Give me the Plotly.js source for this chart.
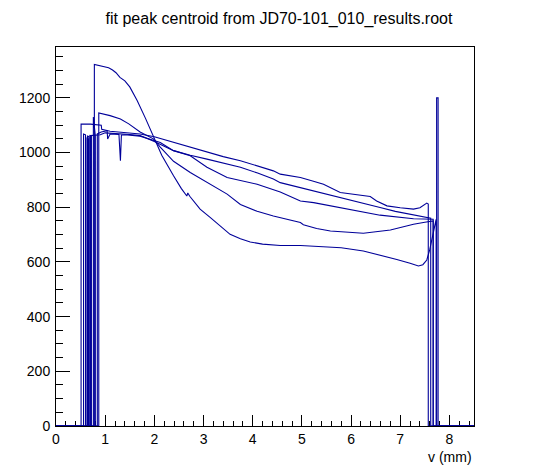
<!DOCTYPE html>
<html>
<head>
<meta charset="utf-8">
<script src="https://cdn.plot.ly/plotly-3.0.1.min.js"></script>
<style>
html,body{margin:0;padding:0;background:#fff;}
#chart{width:558px;height:474px;}
</style>
</head>
<body>
<div id="chart"></div>
<script>
// Chart text
var chartTitle = "fit peak centroid from JD70-101_010_results.root";
var xAxisTitle = "v (mm)";

// Series A (highest peak, steepest fall)
var xA = [0, 0.78, 0.78, 0.84, 0.95, 1.07, 1.15, 1.22, 1.30, 1.40, 1.50, 1.65, 1.82, 1.98, 2.15, 2.39, 2.55, 2.66, 2.68, 2.72, 2.93, 3.14, 3.35, 3.54, 3.75, 3.95, 4.2, 4.56, 4.97, 5.37, 5.8, 6.25, 6.6, 6.93, 7.2, 7.37, 7.46, 7.54, 7.60, 7.66, 7.73, 7.73, 8.5];
var yA = [0, 0, 1322, 1320, 1316, 1310, 1302, 1292, 1275, 1262, 1240, 1190, 1125, 1062, 990, 915, 868, 841, 852, 840, 793, 762, 730, 701, 685, 673, 665, 660, 660, 656, 652, 640, 625, 609, 595, 585, 590, 607, 645, 700, 756, 0, 0];

// Series B (second peak)
var xB = [0, 0.87, 0.87, 0.95, 1.1, 1.31, 1.48, 1.71, 1.98, 2.12, 2.39, 2.73, 3.07, 3.48, 3.75, 4.09, 4.42, 4.97, 5.03, 5.3, 5.58, 6.25, 6.8, 7.27, 7.5, 7.67, 7.67, 8.5];
var yB = [0, 0, 1145, 1142, 1135, 1123, 1105, 1075, 1050, 1020, 968, 927, 891, 848, 810, 785, 768, 744, 736, 722, 713, 705, 717, 738, 745, 750, 0, 0];

// Series C (flattest, top at right)
var xC = [0, 0.51, 0.51, 0.7, 0.92, 0.93, 1.1, 1.3, 1.5, 1.71, 2.0, 2.39, 2.73, 3.07, 3.4, 3.75, 4.1, 4.42, 4.56, 4.97, 5.2, 5.44, 5.78, 6.1, 6.39, 6.52, 6.73, 7.0, 7.27, 7.4, 7.54, 7.57, 7.57, 8.5];
var yC = [0, 0, 1104, 1104, 1100, 1085, 1078, 1074, 1070, 1068, 1058, 1037, 1020, 1001, 985, 970, 950, 933, 921, 909, 897, 884, 854, 846, 839, 823, 805, 798, 793, 798, 815, 812, 0, 0];

// Series D
var xD = [0, 0.56, 0.56, 0.6, 0.6, 0.64, 0.64, 0.67, 0.67, 0.7, 0.7, 0.9, 1.0, 1.3, 1.5, 1.71, 2.0, 2.39, 2.73, 3.07, 3.4, 3.75, 4.1, 4.42, 4.56, 4.97, 5.24, 5.6, 5.91, 6.25, 6.59, 6.9, 7.27, 7.45, 7.57, 7.62, 7.62, 8.5];
var yD = [0, 0, 1068, 1065, 0, 0, 1060, 1058, 0, 0, 1062, 1065, 1072, 1070, 1066, 1062, 1040, 1007, 990, 976, 961, 946, 925, 903, 890, 872, 860, 845, 829, 814, 799, 785, 771, 765, 761, 760, 0, 0];

// Series E (with dip near 1.3 and end spike)
var xE = [0, 0.63, 0.63, 0.66, 0.66, 0.69, 0.69, 0.72, 0.72, 0.76, 0.76, 0.8, 0.8, 0.84, 0.84, 0.92, 1.04, 1.05, 1.1, 1.28, 1.31, 1.33, 1.4, 1.71, 2.12, 2.39, 2.73, 3.07, 3.48, 4.09, 4.56, 4.97, 5.24, 5.91, 6.59, 7.27, 7.6, 7.67, 7.67, 7.74, 7.74, 7.77, 7.77, 8.5];
var yE = [0, 0, 1055, 1050, 0, 0, 1062, 1060, 0, 0, 1130, 1060, 0, 0, 1068, 1075, 1080, 1050, 1068, 1066, 970, 1064, 1065, 1060, 1037, 1007, 988, 946, 909, 884, 856, 823, 817, 793, 771, 758, 756, 756, 0, 0, 1200, 1200, 0, 0];

var seriesX = [xA, xB, xC, xD, xE];
var seriesY = [yA, yB, yC, yD, yE];

var lineColor = "#000099";
var traces = seriesX.map(function (xs, i) {
  return {
    x: xs, y: seriesY[i], type: "scatter", mode: "lines",
    line: {color: lineColor, width: 1.1}, hoverinfo: "skip", showlegend: false
  };
});

var font = "Liberation Sans, Arial, Helvetica, sans-serif";

var layout = {
  width: 558, height: 474,
  margin: {l: 56, r: 84, t: 47, b: 48},
  paper_bgcolor: "#ffffff", plot_bgcolor: "#ffffff",
  font: {family: font, size: 14, color: "#000000"},
  title: {text: chartTitle, font: {family: font, size: 16, color: "#000000"},
          x: 0.5, xanchor: "center", xref: "container",
          y: 1 - 18.5 / 474, yanchor: "middle", yref: "container"},
  xaxis: {
    range: [0, 8.5], dtick: 1, tick0: 0,
    showgrid: false, zeroline: false,
    showline: true, linecolor: "#000000", linewidth: 1, mirror: true,
    ticks: "inside", ticklen: 11, tickcolor: "#000000", tickwidth: 1,
    minor: {dtick: 0.2, ticks: "inside", ticklen: 5, tickcolor: "#000000", showgrid: false},
    tickfont: {family: font, size: 14, color: "#000000"},
    ticklabelstandoff: 0,
    layer: "below traces"
  },
  yaxis: {
    range: [0, 1386], dtick: 200, tick0: 0,
    showgrid: false, zeroline: false,
    showline: true, linecolor: "#000000", linewidth: 1, mirror: true,
    ticks: "inside", ticklen: 14, tickcolor: "#000000", tickwidth: 1,
    minor: {dtick: 50, ticks: "inside", ticklen: 7, tickcolor: "#000000", showgrid: false},
    tickfont: {family: font, size: 14, color: "#000000"},
    ticklabelstandoff: 2,
    layer: "below traces"
  },
  annotations: [{
    text: xAxisTitle, xref: "paper", yref: "paper",
    x: 1, xanchor: "right", y: (426 - 457) / 379, yanchor: "middle",
    showarrow: false, font: {family: font, size: 14, color: "#000000"}
  }]
};

Plotly.newPlot("chart", traces, layout, {staticPlot: true, displayModeBar: false});
</script>
</body>
</html>
